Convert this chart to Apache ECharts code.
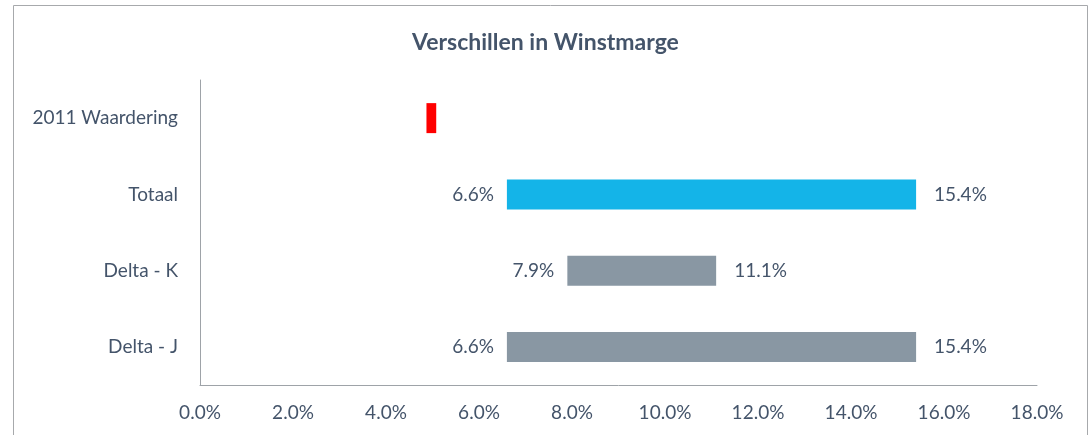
<!DOCTYPE html>
<html lang="nl">
<head>
    <meta charset="UTF-8">
    <script src="https://cdn.jsdelivr.net/npm/echarts@6/dist/echarts.min.js"></script>
    <style>
        html, body { margin: 0; padding: 0; background: #fff; }
    </style>
</head>
<body>
<div id="main" style="width: 1091px;height:435px;"></div>
<script type="text/javascript">
    var categories = ['2011 Waardering', 'Totaal', 'Delta - K', 'Delta - J'];
    var startVals = [4.87, 6.6, 7.9, 6.6];
    var endVals = [5.08, 15.4, 11.1, 15.4];
    var showLabels = [false, true, true, true];
    var barColors = ['#ff0000', '#14b4e8', '#8997a3', '#8997a3'];
    var xTicks = [0, 2, 4, 6, 8, 10, 12, 14, 16, 18];

    var textColor = '#44546a';
    var myChart = echarts.init(document.getElementById('main'));

    // onzichtbare basis + zichtbaar stuk = zwevende balk
    var baseData = startVals.map(function (v, i) {
        return {
            value: v,
            label: { show: showLabels[i] }
        };
    });
    var spanData = endVals.map(function (v, i) {
        return {
            value: +(v - startVals[i]).toFixed(4),
            itemStyle: { color: barColors[i] },
            label: { show: showLabels[i] }
        };
    });

    var option = {
        animation: false,
        title: {
            text: 'Verschillen in Winstmarge',
            left: 'center',
            top: 26,
            textStyle: {
                fontFamily: 'Lato',
                fontSize: 23,
                fontWeight: 'bold',
                color: textColor
            }
        },
        graphic: [{
            type: 'rect',
            shape: { x: 13.5, y: 5.5, width: 1074, height: 480 },
            style: { fill: 'none', stroke: '#a7a9ac', lineWidth: 1 },
            silent: true
        }],
        grid: {
            left: 200,
            right: 54,
            top: 80,
            bottom: 50
        },
        xAxis: {
            type: 'value',
            min: xTicks[0],
            max: xTicks[xTicks.length - 1],
            interval: 2,
            splitLine: { show: false },
            axisTick: { show: false },
            axisLine: { show: true, lineStyle: { color: '#9ea3a8' } },
            axisLabel: {
                margin: 18,
                fontFamily: 'Lato',
                fontSize: 19,
                color: textColor,
                formatter: function (v) { return v.toFixed(1) + '%'; }
            }
        },
        yAxis: {
            type: 'category',
            inverse: true,
            data: categories,
            axisTick: { show: false },
            axisLine: { show: true, lineStyle: { color: '#9ea3a8' } },
            axisLabel: {
                margin: 22,
                fontFamily: 'Lato',
                fontSize: 19,
                color: textColor
            }
        },
        series: [{
            name: 'basis',
            type: 'bar',
            stack: 'range',
            barWidth: 30,
            itemStyle: { color: 'transparent' },
            label: {
                position: 'insideRight',
                distance: 13,
                fontFamily: 'Lato',
                fontSize: 19,
                color: textColor,
                formatter: function (p) { return p.value.toFixed(1) + '%'; }
            },
            data: baseData
        }, {
            name: 'marge',
            type: 'bar',
            stack: 'range',
            barWidth: 30,
            label: {
                position: 'right',
                distance: 18,
                fontFamily: 'Lato',
                fontSize: 19,
                color: textColor,
                formatter: function (p) { return endVals[p.dataIndex].toFixed(1) + '%'; }
            },
            data: spanData
        }]
    };

    myChart.setOption(option);
</script>
</body>
</html>
